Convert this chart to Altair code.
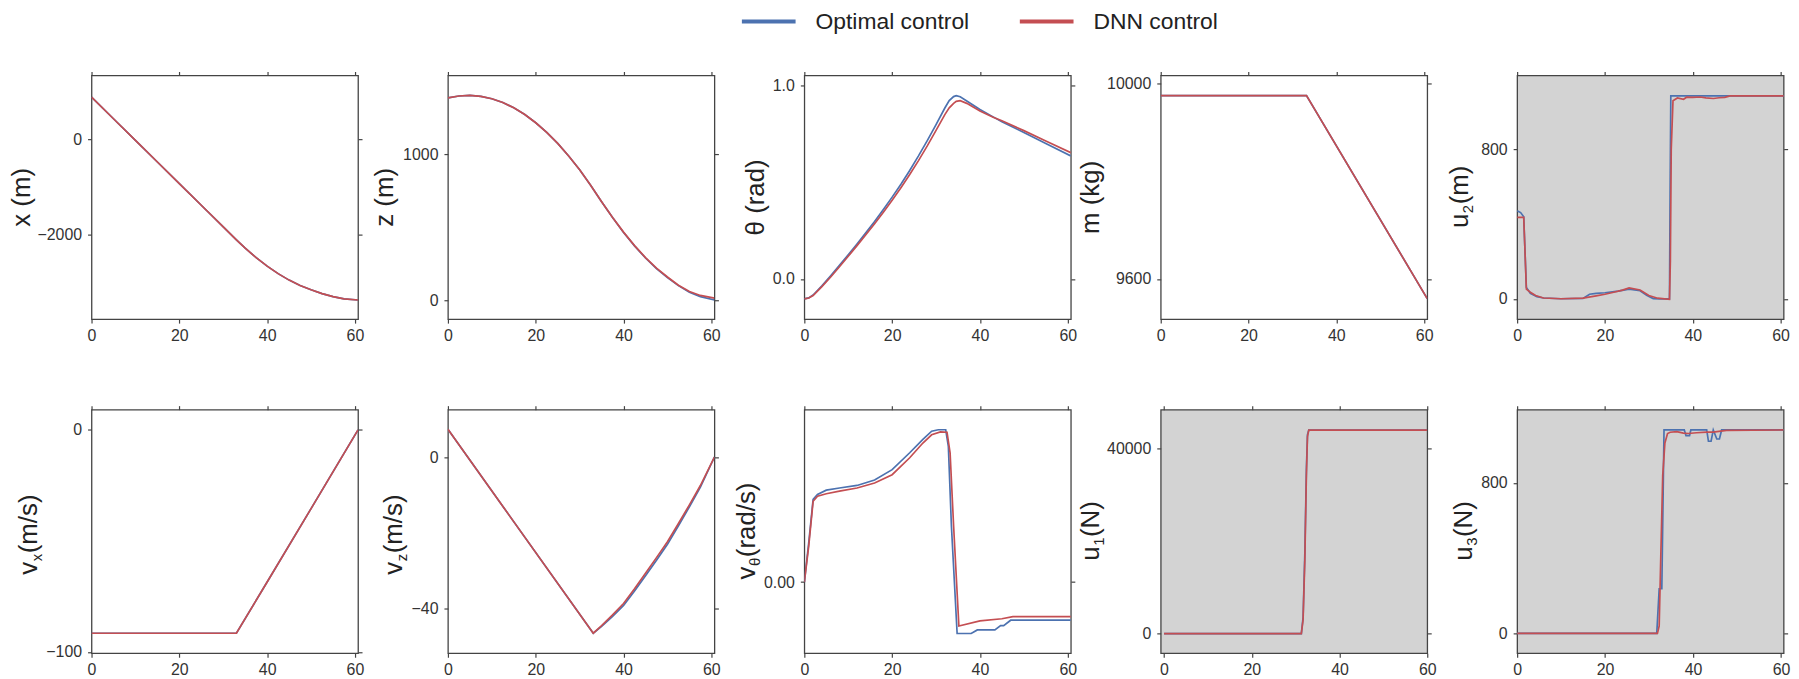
import altair as alt
import pandas as pd

BLUE = "#4C72B0"
RED = "#C44E52"
GRAY = "#D3D3D3"
FONT = "Liberation Sans"
TXT = "#222222"
SERIES = ["Optimal control", "DNN control"]
W, H = 268, 245
TS, SS = 26, 15

# ---------------- data ----------------
# x (m)
x_t = [0, 5, 10, 15, 20, 25, 30, 33, 35, 37.5, 40, 42.5, 45, 47.5, 50, 52.5, 55, 57.5, 60.7]
x_opt = [888, 433, -22, -477, -932, -1387, -1842, -2115, -2290, -2490, -2668, -2825, -2962, -3075, -3165,
         -3245, -3310, -3355, -3380]
x_dnn = [888, 433, -22, -477, -932, -1387, -1842, -2115, -2290, -2490, -2668, -2825, -2962, -3075, -3165,
         -3245, -3310, -3355, -3380]

# z (m)
z_t = [0, 2.5, 5, 7.5, 10, 12.5, 15, 17.5, 20, 22.5, 25, 27.5, 30, 32.5, 35, 37.5, 40, 42.5, 45, 47.5, 50,
       52.5, 55, 57.5, 60.7]
z_opt = [1386, 1399, 1403, 1396, 1380, 1354, 1318, 1272, 1216, 1150, 1075, 989, 894, 789, 676, 568, 466,
         374, 291, 219, 157, 102, 57, 27, 4]
z_dnn = [1386, 1399, 1403, 1396, 1380, 1354, 1318, 1272, 1216, 1150, 1075, 989, 894, 789, 676, 568, 468,
         376, 294, 222, 161, 105, 62, 35, 17]

# theta (rad)
th_t = [0, 1, 2, 4, 6, 8, 10, 12, 14, 16, 18, 20, 22, 24, 26, 28, 30, 32, 33, 34, 34.6, 35.5, 37, 40, 43, 45,
        50, 55, 60.7]
th_opt = [-0.103, -0.098, -0.083, -0.036, 0.016, 0.07, 0.125, 0.181, 0.238, 0.297, 0.359, 0.423, 0.49, 0.561,
          0.636, 0.715, 0.798, 0.884, 0.922, 0.943, 0.948, 0.942, 0.92, 0.876, 0.838, 0.813, 0.757, 0.7, 0.636]
th_dnn = [-0.103, -0.099, -0.086, -0.04, 0.01, 0.063, 0.117, 0.172, 0.228, 0.285, 0.345, 0.407, 0.472, 0.54,
          0.612, 0.688, 0.768, 0.85, 0.885, 0.908, 0.918, 0.922, 0.908, 0.868, 0.836, 0.818, 0.767, 0.713, 0.653]

# m (kg)
m_t = [0, 33.2, 60.7]
m_opt = [9975, 9975, 9560]
m_dnn = [9975, 9975, 9560]

# u2
u2_opt_t = [0, 0.8, 1.5, 2.1, 3, 4.5, 6, 10, 15, 16.5, 18, 20, 23, 25.5, 28, 29.5, 31, 32.5, 34.7, 34.85, 35.0,
            60.8]
u2_opt = [471, 462, 440, 62, 30, 12, 5, 1, 3, 25, 30, 33, 42, 52, 44, 20, 2, 0, 0, 600, 1086, 1086]
u2_dnn_t = [0, 1.5, 1.8, 2.1, 3, 4.2, 6, 10, 15, 18, 20, 22, 24, 25.5, 28, 30, 32, 34.7, 34.9, 35.1, 35.5, 36.5,
            37.9, 38.6, 40, 41.7, 43, 44.7, 46, 47.3, 48.5, 60.8]
u2_dnn = [436, 436, 250, 53, 36, 18, 5, 1, 4, 16, 25, 36, 47, 59, 48, 18, 4, -2, 200, 800, 1060, 1075,
          1068, 1079, 1078, 1080, 1075, 1072, 1076, 1078, 1086, 1086]

# vx (m/s)
vx_t = [0, 33, 40, 50, 60.7]
vx_opt = [-91.6, -91.6, -68.5, -35.5, 0]
vx_dnn = [-91.6, -91.6, -68.5, -35.5, 0]

# vz (m/s)
vz_t = [0, 33.1, 35, 37.5, 40, 42.5, 45, 47.5, 50, 52.5, 55, 57.5, 60.7]
vz_opt = [7.3, -46.4, -44.6, -42.0, -39.1, -35.3, -31.3, -27.2, -23.0, -18.1, -13.1, -7.9, 0]
vz_dnn = [7.3, -46.4, -44.4, -41.6, -38.6, -34.7, -30.6, -26.5, -22.3, -17.5, -12.6, -7.5, 0]

# v_theta (rad/s)
vth_opt_t = [0, 1, 2, 3, 5, 8, 12, 16, 20, 24, 27, 29, 30.5, 32.2, 32.8, 33.5, 34.8, 38.0, 39.4, 43.4, 44.7,
             45.4, 47.0, 60.7]
vth_opt = [0, 0.0109, 0.023, 0.0244, 0.0256, 0.0262, 0.0269, 0.0284, 0.0313, 0.036, 0.0397, 0.042, 0.0424,
           0.0424, 0.0378, 0.0156, -0.0143, -0.0143, -0.0133, -0.0133, -0.0121, -0.0121, -0.0106, -0.0106]
vth_dnn_t = [0, 1, 2, 3, 5, 8, 12, 16, 20, 24, 27, 29, 31, 32.5, 33.2, 34, 35.2, 40, 45, 47.5, 60.7]
vth_dnn = [0, 0.010, 0.0225, 0.0239, 0.0246, 0.0253, 0.0262, 0.0276, 0.0299, 0.0346, 0.0387, 0.041, 0.0418,
           0.0417, 0.036, 0.0156, -0.0122, -0.0108, -0.0102, -0.0096, -0.0096]

# u1 (N)
u1_t = [0, 31.3, 31.7, 32.1, 32.45, 32.7, 33.0, 60]
u1_opt = [0, 0, 3500, 17500, 35500, 43000, 44000, 44000]
u1_dnn = [0, 0, 3000, 16000, 34000, 42600, 44000, 44000]

# u3 (N)
u3_opt_t = [0, 31.75, 32.3, 32.9, 33.4, 38.0, 38.4, 39.2, 39.5, 43.1, 43.5, 44.1, 44.6, 45.4, 46.0, 46.5, 60.6]
u3_opt = [0, 0, 237, 237, 1081, 1081, 1051, 1051, 1081, 1081, 1021, 1021, 1081, 1033, 1033, 1081, 1081]
u3_dnn_t = [0, 31.9, 32.3, 32.65, 33.1, 33.6, 34.2, 34.8, 36.3, 37.8, 38.9, 40.8, 43.1, 44.6, 47.6, 60.6]
u3_dnn = [0, 0, 39, 393, 837, 1012, 1062, 1069, 1072, 1064, 1062, 1066, 1069, 1069, 1079, 1081]

X_TICKS = [0, 20, 40, 60]

# ---------------- helpers ----------------
EM = {'a': .556, 'b': .556, 'c': .5, 'd': .556, 'e': .556, 'g': .556, 'k': .5, 'm': .833, 'n': .556,
      'N': .722, 'r': .333, 's': .5, 'u': .556, 'v': .5, 'x': .5, 'z': .5, '(': .333, ')': .333,
      '/': .278, ' ': .278, 'θ': .556, '1': .556, '2': .556, '3': .556}


def tw(s, size):
    return sum(EM.get(c, .556) for c in s) * size


LEGEND = alt.Legend(orient="none", legendX=669.5, legendY=-66, direction="horizontal", title=None,
                    symbolType="M-9,0H9", symbolStrokeWidth=4, symbolSize=36, labelFontSize=23,
                    labelFont=FONT, labelColor=TXT, labelOffset=35.5, columnPadding=41.5, padding=0)
COLOR_SCALE = alt.Scale(domain=SERIES, range=[BLUE, RED])


def title_layers(base, sub, rest, bx):
    lb, ls, lr = tw(base, TS), tw(sub, SS), tw(rest, TS)
    y0 = H / 2 + (lb + ls + lr) / 2
    one = pd.DataFrame({"k": [0]})
    common = dict(angle=270, align="left", baseline="alphabetic", font=FONT, color=TXT)
    out = [alt.Chart(one).mark_text(text=base, fontSize=TS, **common).encode(
        x=alt.value(bx), y=alt.value(y0))]
    if sub:
        out.append(alt.Chart(one).mark_text(text=sub, fontSize=SS, **common).encode(
            x=alt.value(bx + 5), y=alt.value(y0 - lb - 0.5)))
        out.append(alt.Chart(one).mark_text(text=rest, fontSize=TS, **common).encode(
            x=alt.value(bx), y=alt.value(y0 - lb - ls - 1)))
    return out


def panel(t_o, v_o, t_d, v_d, ydom, yticks, yfmt, ttl, bx, xdom=(0, 60.7), gray=False):
    df_o = pd.DataFrame({"t": t_o, "v": v_o, "series": SERIES[0]})
    df_d = pd.DataFrame({"t": t_d, "v": v_d, "series": SERIES[1]})
    xs = alt.Scale(domain=list(xdom), nice=False, zero=False)
    ys = alt.Scale(domain=list(ydom), nice=False, zero=False)
    color = alt.Color("series:N", scale=COLOR_SCALE, legend=LEGEND)
    l1 = alt.Chart(df_o).mark_line(strokeWidth=1.7, clip=True).encode(
        x=alt.X("t:Q", scale=xs, axis=alt.Axis(orient="bottom", values=X_TICKS, format="d", title=None)),
        y=alt.Y("v:Q", scale=ys, axis=alt.Axis(orient="left", values=yticks, format=yfmt, title=None)),
        color=color, order=alt.Order("t:Q"))
    l2 = alt.Chart(df_d).mark_line(strokeWidth=1.7, clip=True).encode(
        x=alt.X("t:Q", scale=xs, axis=alt.Axis(orient="top", values=X_TICKS, labels=False, title=None)),
        y=alt.Y("v:Q", scale=ys, axis=alt.Axis(orient="right", values=yticks, labels=False, title=None)),
        color=color, order=alt.Order("t:Q"))
    layers = [l1, l2] + title_layers(*ttl, bx)
    ch = alt.layer(*layers).resolve_axis(x="independent", y="independent").properties(width=W, height=H)
    if gray:
        ch = ch.properties(view=alt.ViewBackground(fill=GRAY, stroke="#444444", strokeWidth=1.3))
    return ch


panels = [
    panel(x_t, x_opt, x_t, x_dnn, (-3783, 1343), [-2000, 0], "d", ("x (m)", "", ""), -62),
    panel(z_t, z_opt, z_t, z_dnn, (-127, 1539), [0, 1000], "d", ("z (m)", "", ""), -55),
    panel(th_t, th_opt, th_t, th_dnn, (-0.208, 1.052), [0.0, 1.0], ".1f", ("θ (rad)", "", ""), -41),
    panel(m_t, m_opt, m_t, m_dnn, (9518, 10016), [9600, 10000], "d", ("m (kg)", "", ""), -62),
    panel(u2_opt_t, u2_opt, u2_dnn_t, u2_dnn, (-108, 1195), [0, 800], "d", ("u", "2", "(m)"), -49, gray=True),
    panel(vx_t, vx_opt, vx_t, vx_dnn, (-100.6, 9.1), [-100, 0], "d", ("v", "x", " (m/s)"), -55),
    panel(vz_t, vz_opt, vz_t, vz_dnn, (-51.7, 12.5), [-40, 0], "d", ("v", "z", " (m/s)"), -46),
    panel(vth_opt_t, vth_opt, vth_dnn_t, vth_dnn, (-0.0198, 0.048), [0.0], ".2f", ("v", "θ", "(rad/s)"), -50),
    panel(u1_t, u1_opt, u1_t, u1_dnn, (-4245, 48417), [0, 40000], "d", ("u", "1", "(N)"), -62,
          xdom=(-0.75, 60.0), gray=True),
    panel(u3_opt_t, u3_opt, u3_dnn_t, u3_dnn, (-106, 1189), [0, 800], "d", ("u", "3", "(N)"), -45,
          xdom=(0, 60.6), gray=True),
]

chart = alt.concat(*panels, columns=5, spacing={"row": 91, "column": 90.4}, bounds="flush").properties(
    padding={"left": 0, "top": 0, "right": 0, "bottom": 0}
).configure(font=FONT).configure_view(
    stroke="#444444", strokeWidth=1.3
).configure_axis(
    domain=False, grid=False, ticks=True, tickSize=4, tickColor="#444444", tickWidth=1.2,
    labelFontSize=16, labelColor="#333333", labelFont=FONT, labelFlush=False, labelOverlap=False
).configure_axisX(labelPadding=4).configure_axisY(labelPadding=6)

chart.save("out.html", embed_options={"renderer": "svg", "actions": False})
